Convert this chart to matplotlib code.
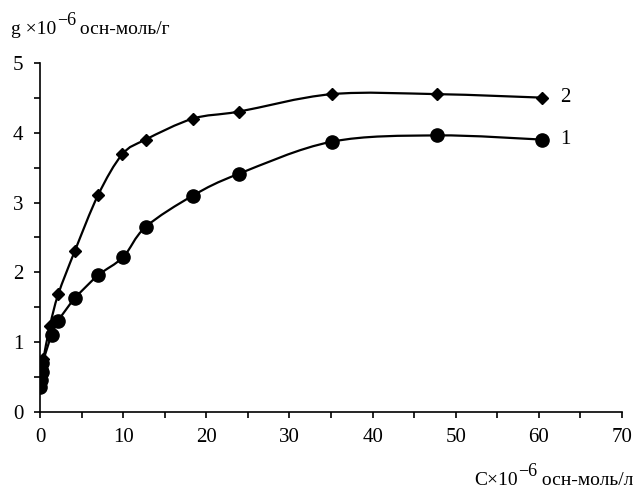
import numpy as np
import matplotlib.pyplot as plt
from matplotlib.path import Path
from matplotlib.patches import PathPatch
from matplotlib.ticker import MultipleLocator

plt.rcParams['font.family'] = ['Liberation Serif', 'DejaVu Serif']

# Кривая 1 (кружки)
c1 = [0.05, 0.1, 0.2, 0.3, 1.4, 2.2, 4.2, 7.0, 10.0, 12.7, 18.4, 23.9, 35.1, 47.8, 60.4]
g1 = [0.36, 0.46, 0.58, 0.70, 1.11, 1.31, 1.63, 1.96, 2.22, 2.65, 3.10, 3.41, 3.87, 3.96, 3.90]

# Кривая 2 (ромбы)
c2 = [0.05, 0.2, 0.4, 1.2, 2.2, 4.2, 7.0, 9.9, 12.7, 18.4, 23.9, 35.1, 47.8, 60.4]
g2 = [0.50, 0.62, 0.76, 1.24, 1.69, 2.31, 3.11, 3.69, 3.90, 4.20, 4.30, 4.55, 4.55, 4.50]


def smooth_path(x, y, t=1/6):
    # кривые Безье через точки (сглаженная линия как в Excel)
    x = np.asarray(x, float)
    y = np.asarray(y, float)
    verts = [(x[0], y[0])]
    codes = [Path.MOVETO]
    n = len(x)
    for i in range(n - 1):
        i0 = max(i - 1, 0)
        i3 = min(i + 2, n - 1)
        p1 = (x[i] + (x[i + 1] - x[i0]) * t, y[i] + (y[i + 1] - y[i0]) * t)
        p2 = (x[i + 1] - (x[i3] - x[i]) * t, y[i + 1] - (y[i3] - y[i]) * t)
        verts += [p1, p2, (x[i + 1], y[i + 1])]
        codes += [Path.CURVE4] * 3
    return Path(verts, codes)


def label_with_power(x, y, head, tail, ha='left'):
    # подпись вида  head 10^-6 tail  из трёх кусков текста (x, y в пикселях)
    W, H = fig.bbox.width, fig.bbox.height
    r = fig.canvas.get_renderer()
    parts = [(head, 14, 0), ('\u22126', 13, 9), (tail, 14, 0)]
    texts = [fig.text(0, 0, s, fontsize=fs, va='baseline') for s, fs, _ in parts]
    widths = [t.get_window_extent(r).width for t in texts]
    gaps = [0.5, -1]
    total = sum(widths) + sum(gaps)
    x0 = x if ha == 'left' else x - total
    for t, w, (s, fs, dy), g in zip(texts, widths, parts, gaps + [0]):
        t.set_position((x0 / W, (H - y + dy) / H))
        x0 += w + g


fig = plt.figure(figsize=(6.35, 4.92), dpi=100)
ax = fig.add_axes([0.063, 0.162, 0.9165, 0.7106])

for x, y, m, ms in [(c1, g1, 'o', 9.5), (c2, g2, 'D', 6.5)]:
    ax.add_patch(PathPatch(smooth_path(x, y), facecolor='none',
                           edgecolor='black', lw=1.6, zorder=2))
    ax.plot(x, y, ls='none', marker=m, ms=ms, color='black', zorder=3)

ax.annotate('1', xy=(c1[-1], g1[-1]), xytext=(18, 0), textcoords='offset pixels',
            va='center', ha='left', fontsize=15)
ax.annotate('2', xy=(c2[-1], g2[-1]), xytext=(18, 0), textcoords='offset pixels',
            va='center', ha='left', fontsize=15)

ax.set_xlim(0, 70)
ax.set_ylim(0, 5)
ax.xaxis.set_major_locator(MultipleLocator(10))
ax.xaxis.set_minor_locator(MultipleLocator(5))
ax.yaxis.set_major_locator(MultipleLocator(1))
ax.yaxis.set_minor_locator(MultipleLocator(0.5))
ax.tick_params(which='both', direction='out', length=4, width=1.2, labelsize=15)
ax.tick_params(axis='x', pad=7)
ax.tick_params(axis='y', pad=8)
ax.spines['top'].set_visible(False)
ax.spines['right'].set_visible(False)
ax.spines['left'].set_linewidth(1.2)
ax.spines['bottom'].set_linewidth(1.2)

label_with_power(11, 34, 'g ×10', ' осн-моль/г', ha='left')
label_with_power(633, 485, 'C×10', ' осн-моль/л', ha='right')

fig.savefig('out.png', dpi=100)
